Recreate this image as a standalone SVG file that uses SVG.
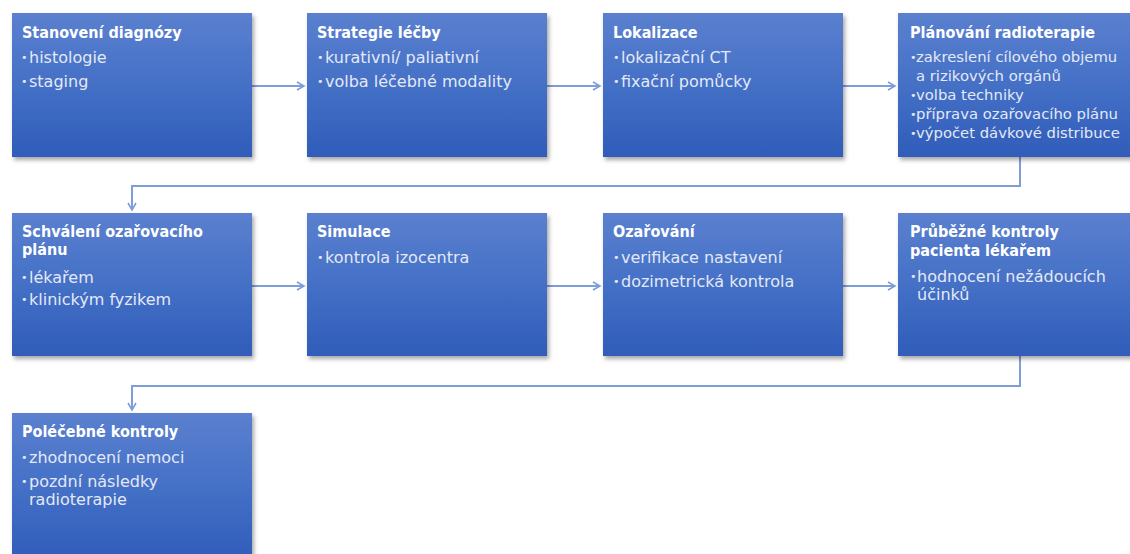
<svg xmlns="http://www.w3.org/2000/svg" width="1130" height="554" viewBox="0 0 1130 554">
  <style>
    .box { fill: url(#boxFill); filter: url(#shadow); }
    .title { font-family: "DejaVu Sans Condensed", "DejaVu Sans", sans-serif; font-stretch: condensed; font-weight: bold; font-size: 16px; fill: #ffffff; }
    .item { font-family: "DejaVu Sans", sans-serif; font-size: 16px; fill: #e4e9f6; }
    .item.small { font-size: 14.8px; }
    .dot { font-family: "DejaVu Sans", sans-serif; font-size: 11px; fill: #e4e9f6; }
    .link { fill: none; stroke: #7f9dd8; stroke-width: 2; marker-end: url(#chevron); }
  </style>
  <defs>
    <linearGradient id="boxFill" x1="0" y1="0" x2="0" y2="1">
      <stop offset="0" stop-color="#5b80cf"/>
      <stop offset="0.5" stop-color="#4470c6"/>
      <stop offset="1" stop-color="#305cb9"/>
    </linearGradient>
    <filter id="shadow" x="-5%" y="-5%" width="115%" height="120%">
      <feDropShadow dx="2" dy="3" stdDeviation="2" flood-color="#000" flood-opacity="0.35"/>
    </filter>
    <marker id="chevron" viewBox="0 0 10 10" refX="8" refY="5" markerWidth="5" markerHeight="5" orient="auto" markerUnits="strokeWidth">
      <path d="M1,1 L8,5 L1,9" fill="none" stroke="#7f9dd8" stroke-width="1.6"/>
    </marker>
  </defs>

  <!-- connectors -->
  <g id="connectors">
    <path class="link" d="M252,86 H304"/>
    <path class="link" d="M547,86 H600"/>
    <path class="link" d="M843,86 H895"/>
    <path class="link" d="M1020,157 V186 H132 V210"/>
    <path class="link" d="M252,286 H304"/>
    <path class="link" d="M547,286 H600"/>
    <path class="link" d="M843,286 H895"/>
    <path class="link" d="M1020,356 V386 H132 V410"/>
  </g>

  <!-- row 1 -->
  <g id="diagnoza">
    <rect class="box" x="12" y="13" width="240" height="144"/>
    <text class="title" x="22" y="38">Stanovení diagnózy</text>
    <text class="dot" x="21" y="61">•</text><text class="item" x="29" y="63">histologie</text>
    <text class="dot" x="21" y="85">•</text><text class="item" x="29" y="87">staging</text>
  </g>
  <g id="strategie">
    <rect class="box" x="307" y="13" width="240" height="144"/>
    <text class="title" x="317" y="38">Strategie léčby</text>
    <text class="dot" x="317" y="61">•</text><text class="item" x="325" y="63">kurativní/ paliativní</text>
    <text class="dot" x="317" y="85">•</text><text class="item" x="325" y="87">volba léčebné modality</text>
  </g>
  <g id="lokalizace">
    <rect class="box" x="603" y="13" width="240" height="144"/>
    <text class="title" x="613" y="38">Lokalizace</text>
    <text class="dot" x="613" y="61">•</text><text class="item" x="621" y="63">lokalizační CT</text>
    <text class="dot" x="613" y="85">•</text><text class="item" x="621" y="87">fixační pomůcky</text>
  </g>
  <g id="planovani">
    <rect class="box" x="898" y="13" width="240" height="144"/>
    <text class="title" x="910" y="38">Plánování radioterapie</text>
    <text class="dot" x="910" y="61">•</text><text class="item small" x="916" y="62">zakreslení cílového objemu</text>
    <text class="item small" x="916" y="81">a rizikových orgánů</text>
    <text class="dot" x="910" y="99">•</text><text class="item small" x="916" y="100">volba techniky</text>
    <text class="dot" x="910" y="118">•</text><text class="item small" x="916" y="119">příprava ozařovacího plánu</text>
    <text class="dot" x="910" y="137">•</text><text class="item small" x="916" y="138">výpočet dávkové distribuce</text>
  </g>

  <!-- row 2 -->
  <g id="schvaleni">
    <rect class="box" x="12" y="213" width="240" height="143"/>
    <text class="title" x="22" y="237">Schválení ozařovacího</text>
    <text class="title" x="22" y="255">plánu</text>
    <text class="dot" x="21" y="281">•</text><text class="item" x="29" y="283">lékařem</text>
    <text class="dot" x="21" y="303">•</text><text class="item" x="29" y="305">klinickým fyzikem</text>
  </g>
  <g id="simulace">
    <rect class="box" x="307" y="213" width="240" height="143"/>
    <text class="title" x="317" y="237">Simulace</text>
    <text class="dot" x="317" y="261">•</text><text class="item" x="325" y="263">kontrola izocentra</text>
  </g>
  <g id="ozarovani">
    <rect class="box" x="603" y="213" width="240" height="143"/>
    <text class="title" x="613" y="237">Ozařování</text>
    <text class="dot" x="613" y="261">•</text><text class="item" x="621" y="263">verifikace nastavení</text>
    <text class="dot" x="613" y="285">•</text><text class="item" x="621" y="287">dozimetrická kontrola</text>
  </g>
  <g id="kontroly">
    <rect class="box" x="898" y="213" width="240" height="143"/>
    <text class="title" x="910" y="237">Průběžné kontroly</text>
    <text class="title" x="910" y="256">pacienta lékařem</text>
    <text class="dot" x="910" y="280">•</text><text class="item" x="917" y="282">hodnocení nežádoucích</text>
    <text class="item" x="917" y="300">účinků</text>
  </g>

  <!-- row 3 -->
  <g id="polecebne">
    <rect class="box" x="12" y="413" width="240" height="150"/>
    <text class="title" x="22" y="437">Poléčebné kontroly</text>
    <text class="dot" x="21" y="461">•</text><text class="item" x="29" y="463">zhodnocení nemoci</text>
    <text class="dot" x="21" y="485">•</text><text class="item" x="29" y="487">pozdní následky</text>
    <text class="item" x="29" y="505">radioterapie</text>
  </g>
</svg>
